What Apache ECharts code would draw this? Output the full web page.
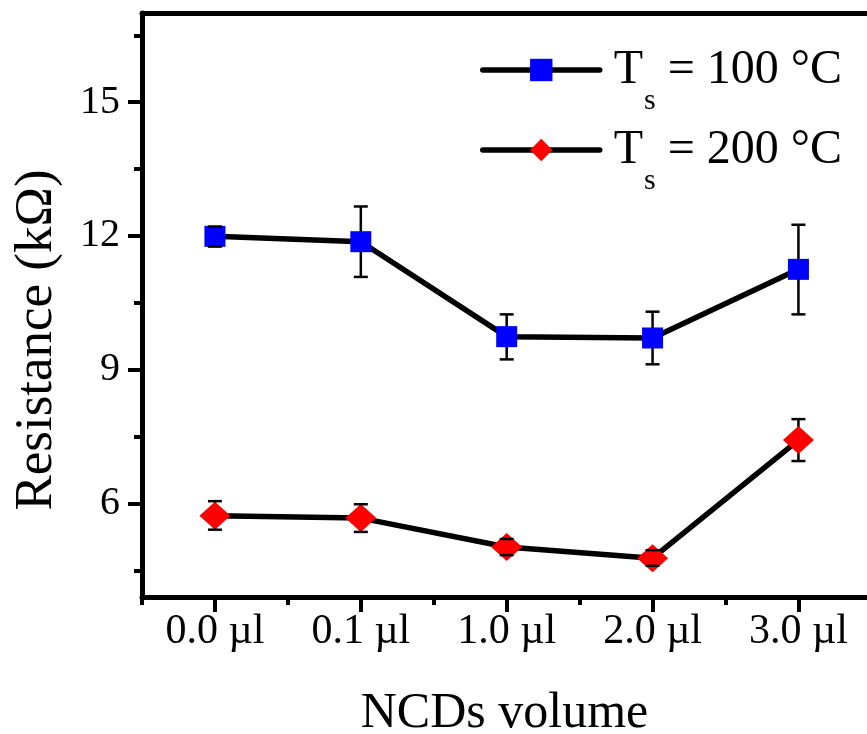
<!DOCTYPE html>
<html>
<head>
<meta charset="utf-8">
<title>Resistance vs NCDs volume</title>
<script src="https://cdn.jsdelivr.net/npm/echarts@6/dist/echarts.min.js"></script>
<style>
  html, body { margin: 0; padding: 0; background: #fff; }
  #chart { width: 867px; height: 734px; }
</style>
</head>
<body>
<div id="chart"></div>
<script>
// categories on the x axis
var volumes = ['0.0 µl', '0.1 µl', '1.0 µl', '2.0 µl', '3.0 µl']

// Ts = 100 °C  (value, error bar top, error bar bottom), kΩ
var ts100 = [11.99, 11.87, 9.74, 9.71, 11.25]
var ts100Hi = [12.21, 12.66, 10.24, 10.30, 12.25]
var ts100Lo = [11.76, 11.08, 9.23, 9.12, 10.24]

// Ts = 200 °C
var ts200 = [5.72, 5.67, 5.02, 4.77, 7.42]
var ts200Hi = [6.05, 5.98, 5.20, 4.95, 7.89]
var ts200Lo = [5.41, 5.36, 4.84, 4.60, 6.95]

// tick labels
var yMajor = [6, 9, 12, 15]
var yMinor = [4.5, 7.5, 10.5, 13.5, 16.5]
var xMajor = [0, 1, 2, 3, 4]
var xMinor = [-0.5, 0.5, 1.5, 2.5, 3.5]

var serif = '"Liberation Serif", "Times New Roman", serif'

function points(vals) {
  return vals.map(function (v, i) { return [i, v] })
}
function bars(lo, hi) {
  return lo.map(function (v, i) { return [i, v, hi[i]] })
}

function stemItem(params, api) {
  var a = api.coord([api.value(0), api.value(1)])
  var b = api.coord([api.value(0), api.value(2)])
  return {
    type: 'line',
    shape: { x1: a[0], y1: a[1], x2: b[0], y2: b[1] },
    style: { stroke: '#000', lineWidth: 2.5 }
  }
}
function capItem(params, api) {
  var a = api.coord([api.value(0), api.value(1)])
  var b = api.coord([api.value(0), api.value(2)])
  var w = 7
  return {
    type: 'group',
    children: [
      { type: 'line', shape: { x1: a[0] - w, y1: a[1], x2: a[0] + w, y2: a[1] }, style: { stroke: '#000', lineWidth: 2.5 } },
      { type: 'line', shape: { x1: b[0] - w, y1: b[1], x2: b[0] + w, y2: b[1] }, style: { stroke: '#000', lineWidth: 2.5 } }
    ]
  }
}

var chart = echarts.init(document.getElementById('chart'))

var option = {
  backgroundColor: '#fff',
  animation: false,
  grid: { left: 142, right: 0, top: 13, bottom: 137, outerBoundsMode: 'none', containLabel: false },
  legend: {
    orient: 'vertical',
    left: 480,
    top: 46,
    padding: 0,
    itemGap: 10,
    itemWidth: 117,
    itemHeight: 28,
    data: ['100', '200'],
    lineStyle: { color: '#000', width: 5.5, cap: 'round' },
    formatter: function (name) {
      return '{t|T}{s|s}{r| = ' + name + ' °C}'
    },
    textStyle: {
      color: '#000',
      rich: {
        t: { fontFamily: serif, fontSize: 48, color: '#000', padding: [0, 0, 0, 9] },
        s: { fontFamily: serif, fontSize: 30, color: '#000', padding: [62, 0, 0, 1] },
        r: { fontFamily: serif, fontSize: 48, color: '#000', padding: [0, 0, 0, 0] }
      }
    }
  },
  xAxis: [
    {
      type: 'value',
      min: -0.5,
      max: 4.47,
      position: 'bottom',
      name: 'NCDs volume',
      nameLocation: 'middle',
      nameGap: 92,
      nameTextStyle: { fontFamily: serif, fontSize: 50, color: '#000' },
      splitLine: { show: false },
      axisLine: { onZero: false, lineStyle: { color: '#000', width: 5 } },
      axisTick: { customValues: xMajor, length: 15, lineStyle: { color: '#000', width: 4 } },
      axisLabel: {
        customValues: xMajor,
        margin: 14,
        fontFamily: serif,
        fontSize: 42,
        color: '#000',
        formatter: function (v) { return volumes[Math.round(v)] }
      }
    },
    {
      type: 'value',
      min: -0.5,
      max: 4.47,
      position: 'bottom',
      splitLine: { show: false },
      axisLine: { show: false, onZero: false },
      axisTick: { customValues: xMinor, length: 8, lineStyle: { color: '#000', width: 4 } },
      axisLabel: { show: false }
    },
    {
      type: 'value',
      min: -0.5,
      max: 4.47,
      position: 'top',
      splitLine: { show: false },
      axisLine: { onZero: false, lineStyle: { color: '#000', width: 5 } },
      axisTick: { show: false },
      axisLabel: { show: false }
    }
  ],
  yAxis: [
    {
      type: 'value',
      min: 3.9,
      max: 17,
      position: 'left',
      name: 'Resistance (kΩ)',
      nameLocation: 'middle',
      nameGap: 78,
      nameTextStyle: { fontFamily: serif, fontSize: 53, color: '#000', padding: [0, 70, 0, 0] },
      splitLine: { show: false },
      axisLine: { onZero: false, lineStyle: { color: '#000', width: 5 } },
      axisTick: { customValues: yMajor, length: 14, lineStyle: { color: '#000', width: 4 } },
      axisLabel: { customValues: yMajor, margin: 22, fontFamily: serif, fontSize: 40, color: '#000' }
    },
    {
      type: 'value',
      min: 3.9,
      max: 17,
      position: 'left',
      splitLine: { show: false },
      axisLine: { show: false, onZero: false },
      axisTick: { customValues: yMinor, length: 8, lineStyle: { color: '#000', width: 4 } },
      axisLabel: { show: false }
    }
  ],
  series: [
    {
      type: 'custom',
      z: 1,
      renderItem: stemItem,
      data: bars(ts100Lo, ts100Hi)
    },
    {
      type: 'custom',
      z: 1,
      renderItem: stemItem,
      data: bars(ts200Lo, ts200Hi)
    },
    {
      name: '100',
      type: 'line',
      z: 2,
      data: points(ts100),
      symbol: 'rect',
      symbolSize: 21,
      itemStyle: { color: '#0000ff' },
      lineStyle: { color: '#000', width: 5.5, cap: 'round' }
    },
    {
      name: '200',
      type: 'line',
      z: 2,
      data: points(ts200),
      symbol: 'diamond',
      symbolSize: [31, 28],
      itemStyle: { color: '#ff0000' },
      lineStyle: { color: '#000', width: 5.5, cap: 'round' }
    },
    {
      type: 'custom',
      z: 3,
      renderItem: capItem,
      data: bars(ts100Lo, ts100Hi)
    },
    {
      type: 'custom',
      z: 3,
      renderItem: capItem,
      data: bars(ts200Lo, ts200Hi)
    }
  ]
}

chart.setOption(option)
</script>
</body>
</html>
